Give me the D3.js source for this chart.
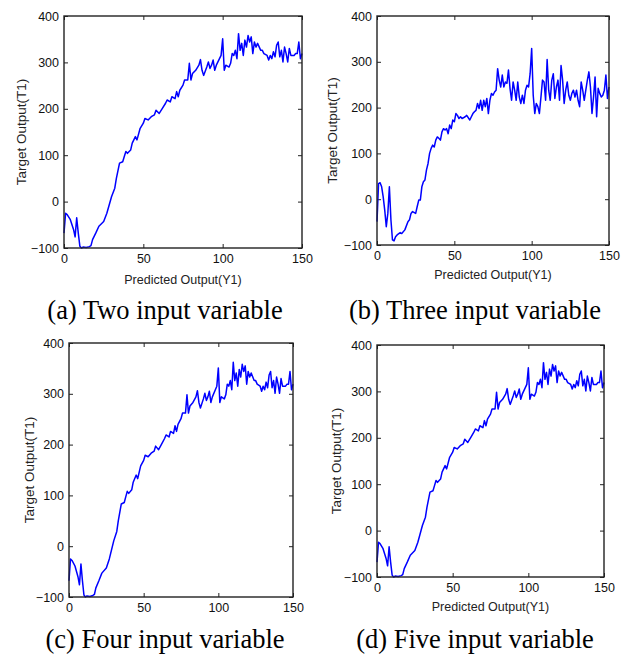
<!DOCTYPE html>
<html>
<head>
<meta charset="utf-8">
<script src="https://cdn.jsdelivr.net/npm/d3@7"></script>
<style>
  html, body { margin: 0; padding: 0; background: #fff; }
  svg { display: block; }
</style>
</head>
<body>
<svg id="chart" width="633" height="657"></svg>
<script>
// ---------------- DATA ----------------
const xTicks = [0, 50, 100, 150];
const yTicks = [-100, 0, 100, 200, 300, 400];
const xLabel = "Predicted Output(Y1)";
const yLabel = "Target Output(T1)";
const captions = ["(a) Two input variable", "(b) Three input variable",
                  "(c) Four input variable", "(d) Five input variable"];

// series shared by panels (a), (c), (d) (visually identical in the figure)
const predA = [0,1,2,4,6,7,8,9,10,11,12,14,16,17,18,20,22,25,27,30,32,33,35,37,38,39,40,42,43,45,46,48,50,51,53,55,57,58,60,62,64,65,67,68,70,71,72,73,75,76,78,79,80,81,83,85,86,87,88,90,91,92,93,94,95,96,98,99,100,101,102,104,105,106,107,108,109,110,111,112,113,114,115,116,117,118,119,120,121,122,124,125,126,128,129,130,131,132,133,134,135,136,137,138,139,140,141,142,143,145,146,147,148,149,150];
const targetA = [-68,-25,-28,-39,-60,-76,-35,-68,-96,-100,-98,-99,-97,-95,-82,-68,-53,-43,-25,11,29,50,83,86,97,108,104,111,126,140,133,158,169,179,176,183,187,197,190,201,212,219,215,226,222,237,226,240,251,262,262,298,262,276,283,294,306,283,272,290,301,287,294,305,283,294,308,315,351,283,294,290,298,319,315,326,308,362,326,341,315,348,333,358,344,355,319,344,333,341,326,326,319,315,305,315,308,323,312,337,344,312,326,301,333,319,301,330,315,315,319,319,344,308,319];

// series of panel (b)
const predB = [0,1,2,3,4,5,6,7,8,9,10,11,12,13,15,16,18,20,21,22,23,25,26,27,28,29,30,31,32,33,34,35,36,37,38,39,40,41,42,43,44,45,46,47,48,49,50,51,52,53,54,55,57,58,60,61,62,63,64,65,66,67,68,69,70,71,72,73,74,75,76,77,78,79,80,81,82,83,84,85,86,87,88,89,90,91,92,93,94,95,96,97,98,99,100,101,102,103,104,105,106,107,108,109,110,111,112,113,114,115,116,117,118,119,120,121,122,123,124,125,126,127,128,129,130,131,132,133,134,135,136,137,138,139,140,141,142,143,144,145,146,147,148,149,150];
const targetB = [-49,34,36,27,5,-24,-60,-31,27,-45,-89,-91,-82,-78,-73,-75,-67,-49,-45,-31,-27,-31,-16,-2,-2,27,38,42,64,78,100,111,118,114,129,136,133,129,147,154,151,154,143,162,154,173,169,187,183,176,180,176,180,183,173,180,187,191,194,209,198,216,194,216,202,220,187,216,231,227,234,238,285,260,245,271,245,256,253,282,242,216,256,238,216,256,223,209,227,209,238,249,245,274,329,227,187,209,202,187,223,260,256,216,305,238,216,260,274,220,245,260,216,292,260,209,238,256,227,216,231,238,223,238,216,202,256,238,216,238,260,278,245,187,223,267,180,242,231,223,227,238,271,220,245];

const panelSeries = [[predA, targetA], [predB, targetB], [predA, targetA], [predA, targetA]];

// ---------------- LAYOUT ----------------
const panels = [
  {left: 64,  right: 302, top: 16,  bottom: 248, xlabY: 284, ylabX: 21,  showX: true},
  {left: 377, right: 609, top: 16,  bottom: 245, xlabY: 279, ylabX: 332, showX: true},
  {left: 69,  right: 293, top: 343, bottom: 597, xlabY: 0,   ylabX: 29,  showX: false},
  {left: 377, right: 604, top: 345, bottom: 577, xlabY: 611, ylabX: 336, showX: true}
];
const captionPos = [[165, 319], [475, 319], [165, 648], [475, 648]];

const svg = d3.select("#chart");
const tickFont = "Liberation Sans, Arial, sans-serif";

panels.forEach((p, i) => {
  const x = d3.scaleLinear().domain([0, 150]).range([p.left, p.right]);
  const y = d3.scaleLinear().domain([-100, 400]).range([p.bottom, p.top]);
  const g = svg.append("g");

  const styleAxis = sel => {
    sel.select(".domain").remove();
    sel.selectAll(".tick line").attr("stroke", "#222").attr("stroke-width", 1);
    sel.selectAll(".tick text").attr("fill", "#111")
       .style("font-family", tickFont).style("font-size", "12.5px");
  };

  g.append("g").attr("transform", `translate(0,${p.bottom})`)
    .call(d3.axisBottom(x).tickValues(xTicks).tickSize(-4).tickPadding(6))
    .call(styleAxis);
  g.append("g").attr("transform", `translate(${p.left},0)`)
    .call(d3.axisLeft(y).tickValues(yTicks).tickSize(-4).tickPadding(5))
    .call(styleAxis);
  g.append("g").attr("transform", `translate(0,${p.top})`)
    .call(d3.axisTop(x).tickValues(xTicks).tickSize(-4).tickFormat(""))
    .call(styleAxis);
  g.append("g").attr("transform", `translate(${p.right},0)`)
    .call(d3.axisRight(y).tickValues(yTicks).tickSize(-4).tickFormat(""))
    .call(styleAxis);

  // data line
  const [xs, ys] = panelSeries[i];
  const pts = xs.map((v, k) => [v, ys[k]]);
  g.append("path")
    .datum(pts)
    .attr("fill", "none")
    .attr("stroke", "#0000ff")
    .attr("stroke-width", 1.5)
    .attr("stroke-linejoin", "round")
    .attr("d", d3.line().x(d => x(d[0])).y(d => y(d[1])));

  // box
  g.append("rect")
    .attr("x", p.left).attr("y", p.top)
    .attr("width", p.right - p.left).attr("height", p.bottom - p.top)
    .attr("fill", "none").attr("stroke", "#222").attr("stroke-width", 1.4);

  // labels
  if (p.showX) {
    g.append("text")
      .attr("x", (p.left + p.right) / 2).attr("y", p.xlabY)
      .attr("text-anchor", "middle")
      .style("font-family", tickFont).style("font-size", "12.5px")
      .attr("fill", "#222")
      .text(xLabel);
  }
  g.append("text")
    .attr("transform", `translate(${p.ylabX},${(p.top + p.bottom) / 2}) rotate(-90)`)
    .attr("text-anchor", "middle")
    .attr("dominant-baseline", "central")
    .style("font-family", tickFont).style("font-size", "13.5px")
    .attr("fill", "#222")
    .text(yLabel);

  // caption
  svg.append("text")
    .attr("x", captionPos[i][0]).attr("y", captionPos[i][1])
    .attr("text-anchor", "middle")
    .style("font-family", "Liberation Serif, Times New Roman, serif")
    .style("font-size", "26.5px")
    .attr("fill", "#000")
    .text(captions[i]);
});
</script>
</body>
</html>
